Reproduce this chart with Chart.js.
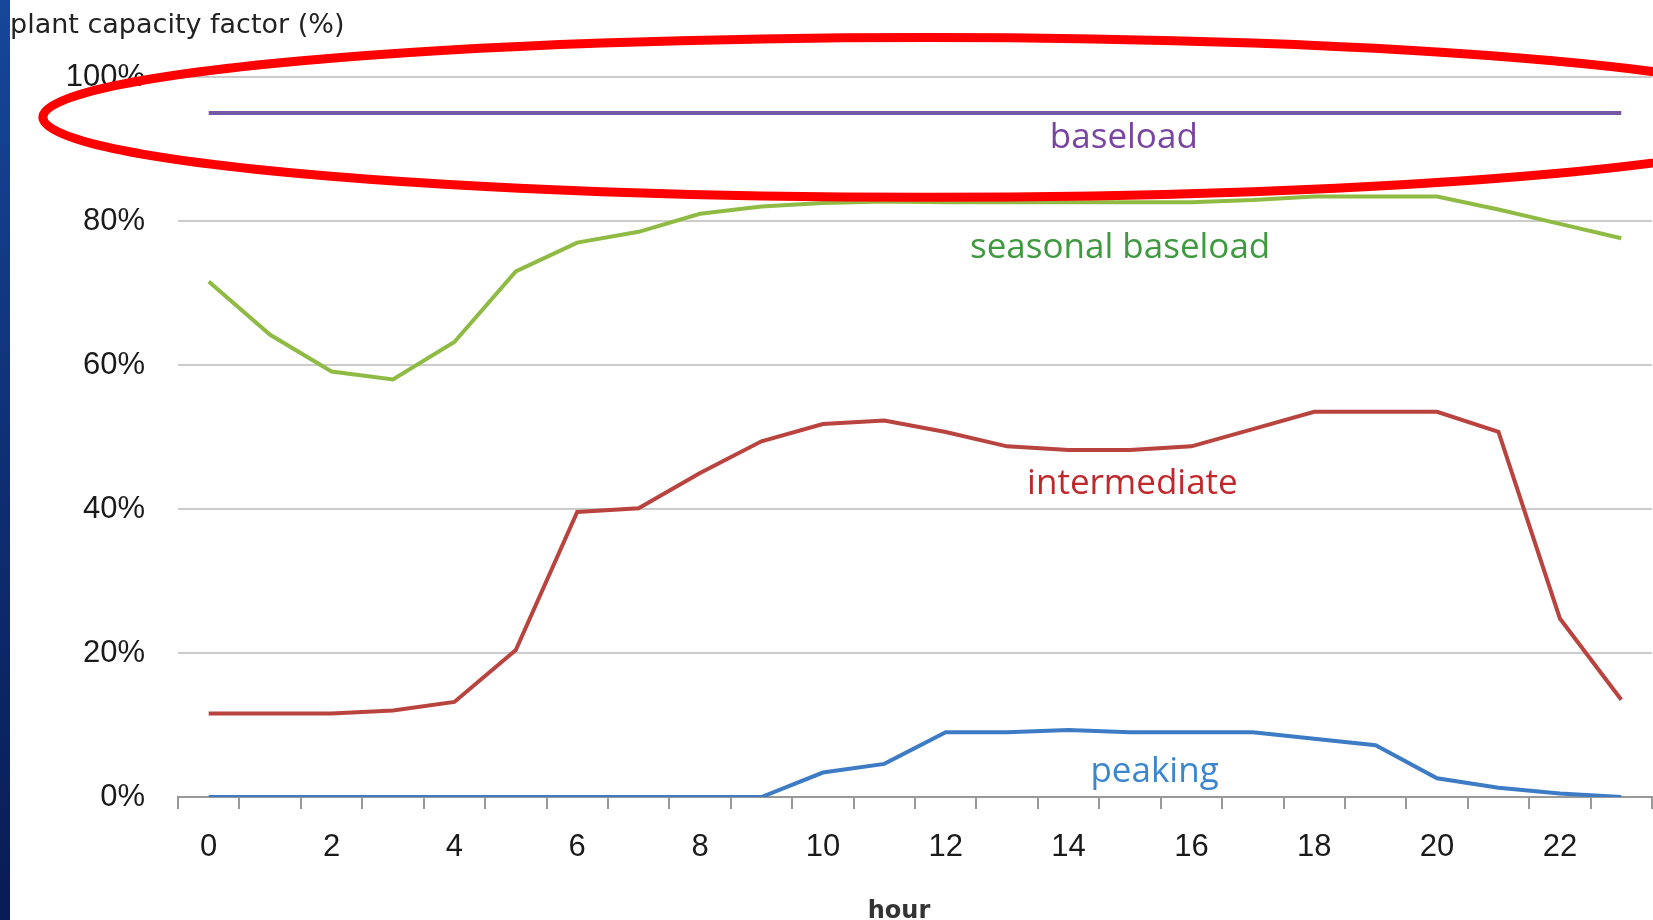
<!DOCTYPE html>
<html>
<head>
<meta charset="utf-8">
<title>plant capacity factor</title>
<script src="https://cdn.jsdelivr.net/npm/chart.js@4.4.1/dist/chart.umd.min.js"></script>
<style>
  html, body { margin: 0; padding: 0; background: #fff; }
  #wrap { position: relative; width: 1653px; height: 920px; overflow: hidden; }
  #strip {
    position: absolute; left: 0; top: 0; width: 10px; height: 920px;
    background: linear-gradient(to bottom, #17479a, #0f2f74 50%, #081c55);
  }
  #capacityChart { position: absolute; left: 0; top: 0; }
</style>
</head>
<body>
<div id="wrap">
  <canvas id="capacityChart" width="1653" height="920"></canvas>
  <div id="strip"></div>
</div>
<script>
// hours of the day (x categories)
const hours = [0, 1, 2, 3, 4, 5, 6, 7, 8, 9, 10, 11, 12, 13, 14, 15, 16, 17, 18, 19, 20, 21, 22, 23];

// capacity factor per hour (%)
const baseload = [95, 95, 95, 95, 95, 95, 95, 95, 95, 95, 95, 95, 95, 95, 95, 95, 95, 95, 95, 95, 95, 95, 95, 95];
const seasonalBaseload = [71.6, 64.2, 59.1, 58.0, 63.2, 73.0, 77.0, 78.5, 81.0, 82.0, 82.5, 82.7, 82.6, 82.6, 82.6, 82.6, 82.6, 82.9, 83.4, 83.4, 83.4, 81.6, 79.6, 77.6];
const intermediate = [11.6, 11.6, 11.6, 12.0, 13.2, 20.4, 39.6, 40.1, 45.0, 49.4, 51.8, 52.3, 50.7, 48.7, 48.2, 48.2, 48.7, 51.1, 53.5, 53.5, 53.5, 50.7, 24.8, 13.5];
const peaking = [0, 0, 0, 0, 0, 0, 0, 0, 0, 0, 3.4, 4.6, 9.0, 9.0, 9.3, 9.0, 9.0, 9.0, 8.1, 7.2, 2.6, 1.3, 0.5, 0];

// y axis tick values
const yTicks = [0, 20, 40, 60, 80, 100];

// series names and colours
const seriesNames = ["baseload", "seasonal baseload", "intermediate", "peaking"];
const lineColors = ["#7659a4", "#8fbb45", "#b9433f", "#3d7cc5"];
const textColors = ["#7a44a3", "#3f9a3f", "#c0282c", "#3a86cf"];

// where the in-chart series labels sit (hour, value)
const labelSpots = [[14.9, 90.1], [14.84, 74.9], [15.04, 42.1], [15.4, 2.1]];

// x axis title position (hour)
const hourTitleAt = 11.24;

// hand drawn highlight ellipse round the baseload line (hour, value, half width in hours, half height in %)
const highlight = { hour: 11.7, value: 94.4, rxHours: 14.4, ryValue: 11.1 };

const overlayPlugin = {
  id: "overlay",
  afterDraw(chart) {
    const ctx = chart.ctx;
    const xs = chart.scales.x;
    const ys = chart.scales.y;

    ctx.save();
    // axis title at the top left
    ctx.font = "27px 'DejaVu Sans'";
    ctx.fillStyle = "#222";
    ctx.textAlign = "left";
    ctx.textBaseline = "alphabetic";
    ctx.fillText("plant capacity factor (%)", 10, 33);

    // x axis title
    ctx.font = "bold 24px 'DejaVu Sans'";
    ctx.fillStyle = "#333";
    ctx.textAlign = "center";
    ctx.fillText("hour", xs.getPixelForValue(hourTitleAt), 918);

    // series labels
    ctx.font = "35px 'Open Sans'";
    seriesNames.forEach((name, i) => {
      ctx.fillStyle = textColors[i];
      ctx.fillText(name, xs.getPixelForValue(labelSpots[i][0]), ys.getPixelForValue(labelSpots[i][1]));
    });

    // red ellipse
    const cx = xs.getPixelForValue(highlight.hour);
    const cy = ys.getPixelForValue(highlight.value);
    const rx = xs.getPixelForValue(highlight.hour + highlight.rxHours) - cx;
    const ry = ys.getPixelForValue(highlight.value - highlight.ryValue) - cy;
    ctx.beginPath();
    ctx.ellipse(cx, cy, rx, ry, 0, 0, Math.PI * 2);
    ctx.strokeStyle = "#ff0000";
    ctx.lineWidth = 9;
    ctx.stroke();
    ctx.restore();
  }
};

const makeSet = (label, data, color) => ({
  label: label,
  data: data,
  borderColor: color,
  backgroundColor: color,
  borderWidth: 4,
  pointRadius: 0,
  tension: 0,
  fill: false
});

new Chart(document.getElementById("capacityChart").getContext("2d"), {
  type: "line",
  data: {
    labels: hours,
    datasets: [
      makeSet(seriesNames[0], baseload, lineColors[0]),
      makeSet(seriesNames[1], seasonalBaseload, lineColors[1]),
      makeSet(seriesNames[2], intermediate, lineColors[2]),
      makeSet(seriesNames[3], peaking, lineColors[3])
    ]
  },
  options: {
    responsive: false,
    animation: false,
    devicePixelRatio: 1,
    layout: { padding: { top: 77, right: 1, bottom: 0, left: 0 } },
    plugins: {
      legend: { display: false },
      tooltip: { enabled: false }
    },
    scales: {
      x: {
        type: "category",
        offset: true,
        afterFit: (scale) => { scale.height = 123; },
        grid: {
          offset: true,
          drawOnChartArea: false,
          drawTicks: true,
          tickLength: 12,
          color: "#999",
          lineWidth: 2
        },
        border: { display: true, color: "#999", width: 2 },
        ticks: {
          autoSkip: false,
          maxRotation: 0,
          padding: 20,
          color: "#1a1a1a",
          font: { family: "'Liberation Sans', Arial", size: 31 },
          callback: (v, i) => (i % 2 === 0 ? String(hours[i]) : "")
        }
      },
      y: {
        min: yTicks[0],
        max: yTicks[yTicks.length - 1],
        afterFit: (scale) => { scale.width = 178; },
        afterBuildTicks: (scale) => { scale.ticks = yTicks.map((v) => ({ value: v })); },
        grid: { color: "#cccccc", lineWidth: 2, drawTicks: false },
        border: { display: false },
        ticks: {
          padding: 33,
          color: "#1a1a1a",
          font: { family: "'Liberation Sans', Arial", size: 31 },
          callback: (v) => v + "%"
        }
      }
    }
  },
  plugins: [overlayPlugin]
});
</script>
</body>
</html>
